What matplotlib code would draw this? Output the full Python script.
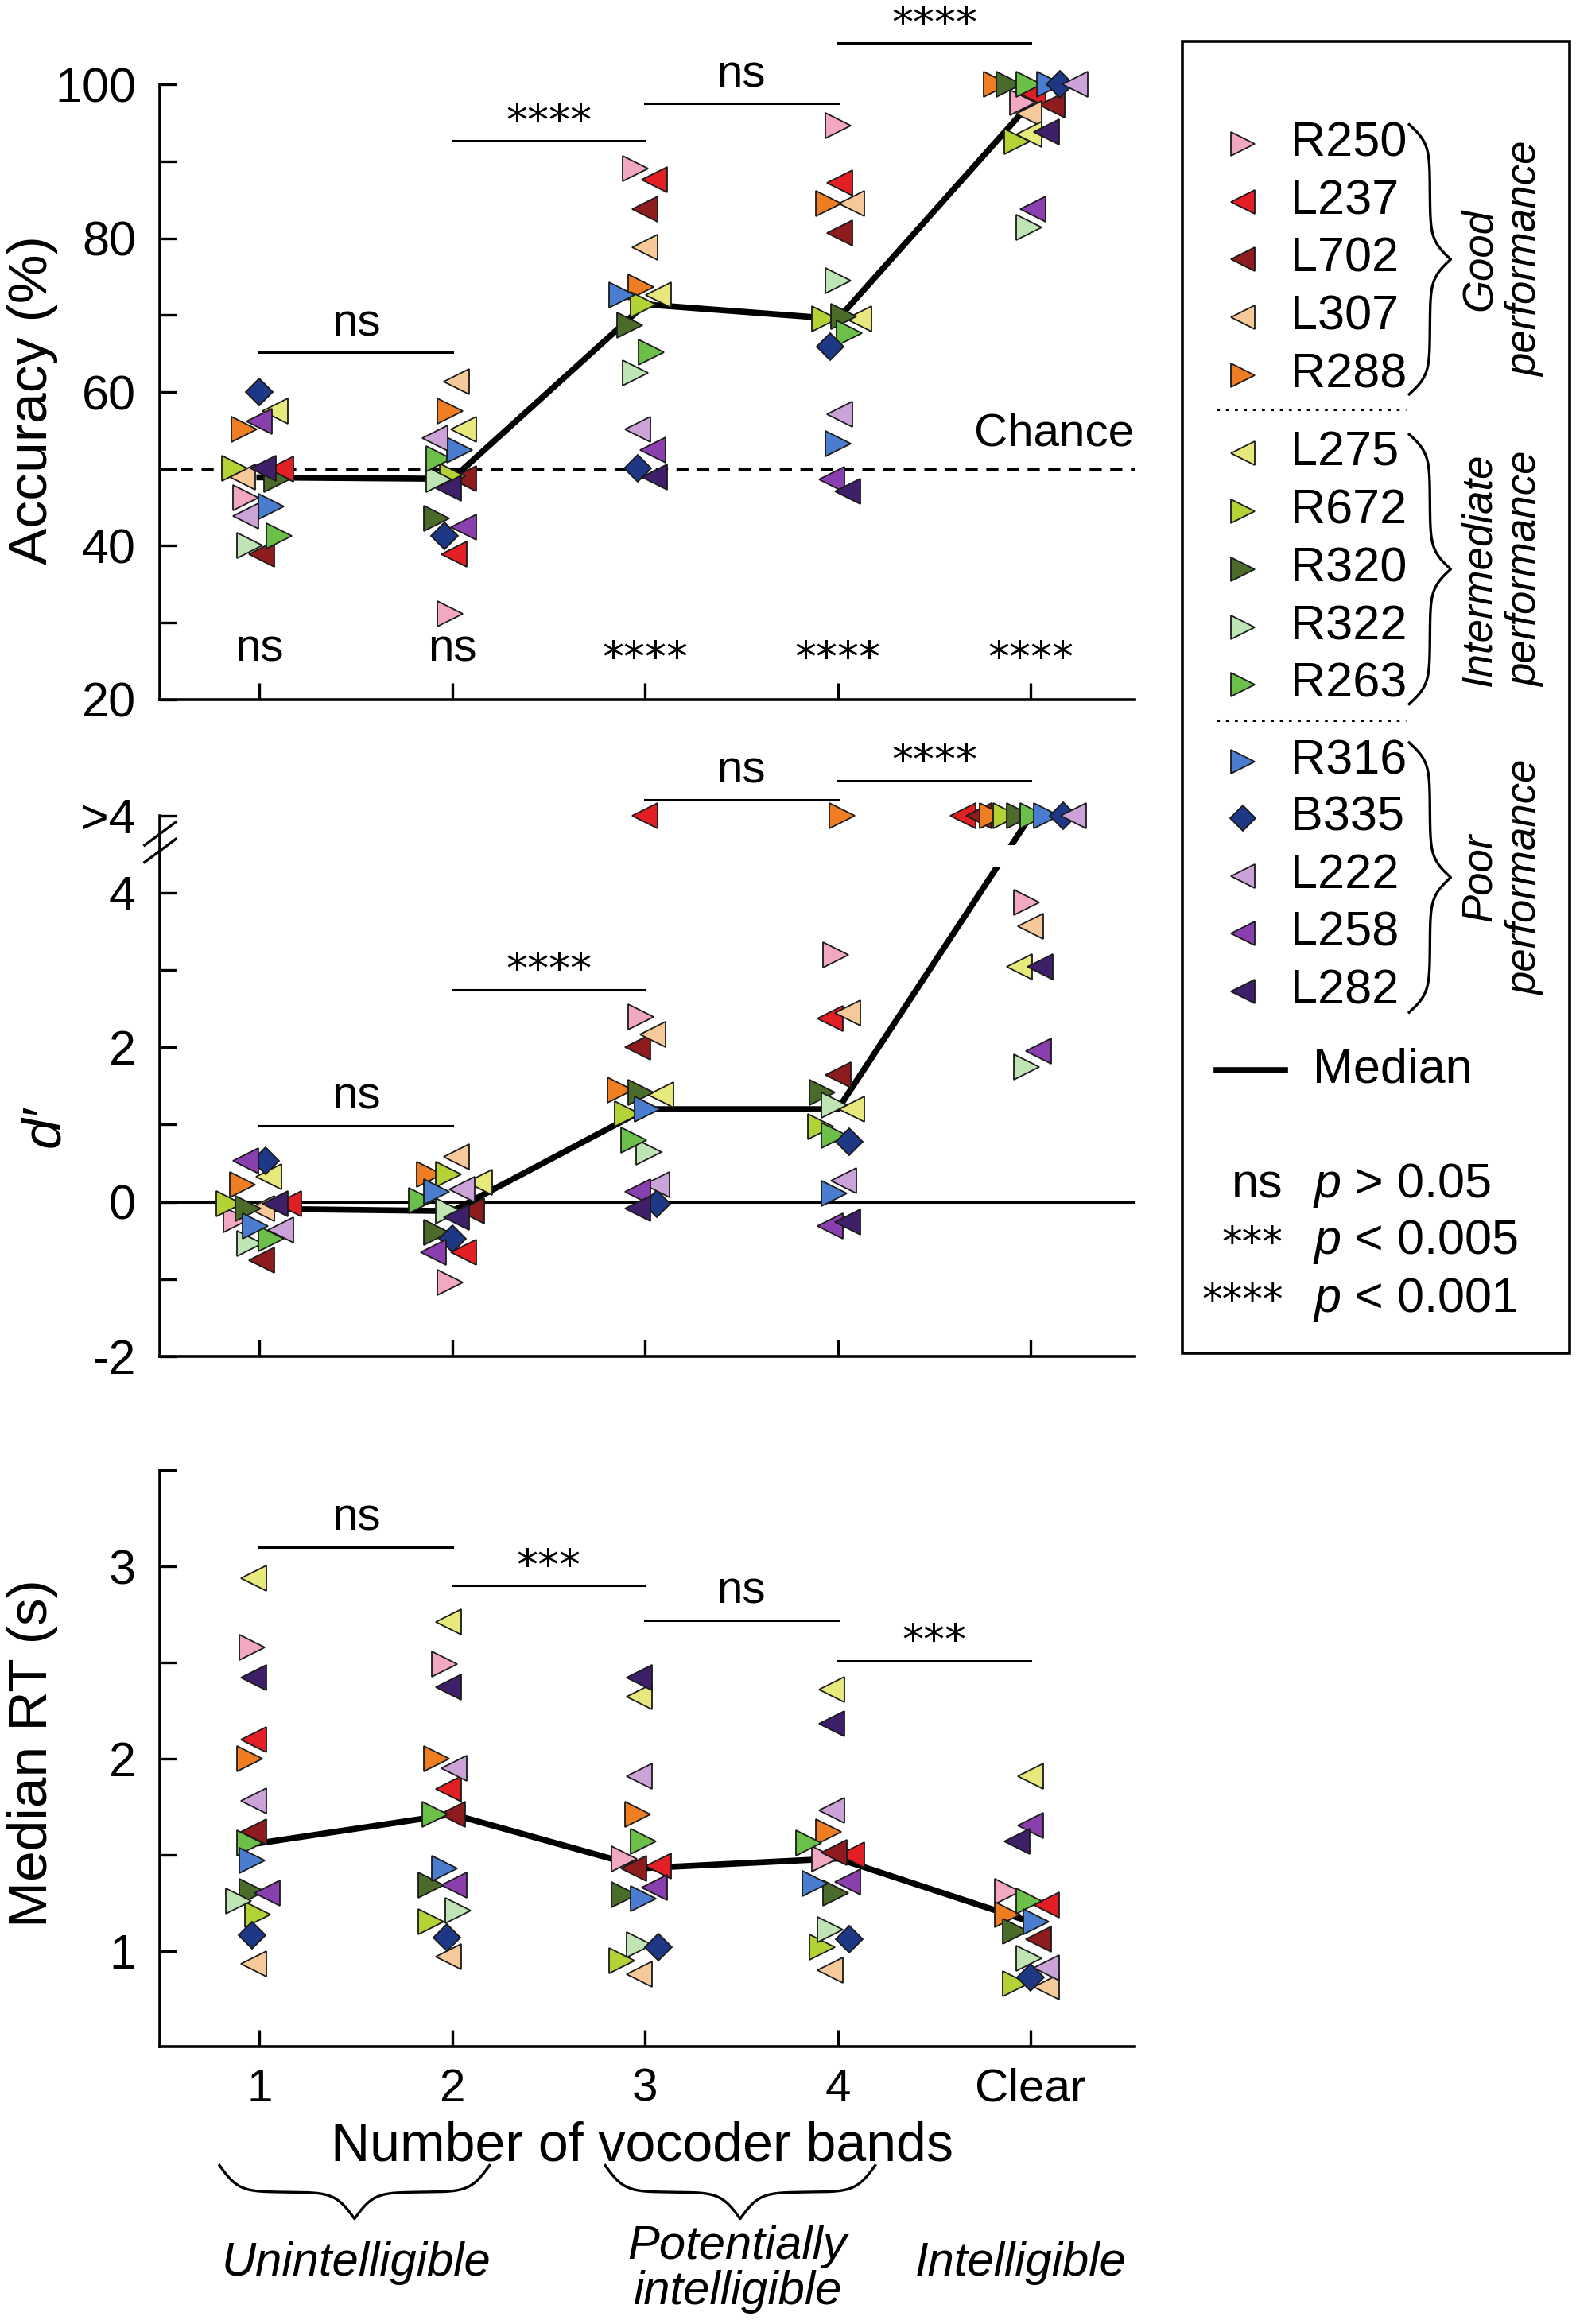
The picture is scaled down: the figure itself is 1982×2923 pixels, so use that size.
import numpy as np
import matplotlib
matplotlib.use('Agg')
import matplotlib.pyplot as plt

plt.rcParams['font.family'] = ['Liberation Sans', 'DejaVu Sans']
plt.rcParams['font.size'] = 44
plt.rcParams['mathtext.fontset'] = 'custom'
plt.rcParams['mathtext.it'] = 'Liberation Sans:italic'
plt.rcParams['mathtext.rm'] = 'Liberation Sans'
NARROW = ['Liberation Sans Narrow', 'Liberation Sans', 'DejaVu Sans']

# subjects, in legend order
subjects = ['R250', 'L237', 'L702', 'L307', 'R288',
            'L275', 'R672', 'R320', 'R322', 'R263',
            'R316', 'B335', 'L222', 'L258', 'L282']
colors = ['#f2a7c3', '#e31f26', '#8e1b1e', '#f6c99b', '#ef7d22',
          '#e7e97c', '#b3d236', '#4b6b2a', '#c0e5b5', '#6cc04a',
          '#4a7cd0', '#1f3885', '#cba3d9', '#8a3fae', '#3e1f6a']
markers = ['>', '<', '<', '<', '>', '<', '>', '>', '>', '>', '>', 'D', '<', '<', '<']
groups = ['Good\nperformance', 'Intermediate\nperformance', 'Poor\nperformance']
conditions = ['1', '2', '3', '4', 'Clear']

# accuracy (%) per condition, subject order as above
acc_b1 = [46.3, 50.0, 38.9, 48.9, 55.1, 57.5, 50.1, 48.6, 40.1, 41.3, 45.1, 60.0, 43.9, 56.2, 50.1]
acc_b2 = [31.2, 38.9, 48.7, 61.3, 57.5, 55.1, 49.0, 43.6, 48.6, 51.3, 52.5, 41.3, 54.0, 42.4, 47.5]
acc_b3 = [89.1, 87.6, 83.8, 78.8, 73.7, 72.6, 71.4, 68.7, 62.5, 65.2, 72.6, 50.1, 55.1, 52.5, 48.9]
acc_b4 = [94.6, 87.2, 80.7, 84.5, 84.5, 69.5, 69.5, 69.8, 74.5, 67.7, 53.3, 65.9, 57.1, 48.6, 47.1]
acc_clear = [97.6, 98.8, 97.3, 96.2, 100, 93.5, 92.6, 100, 81.4, 100, 100, 100, 100, 83.8, 93.8]

# d' per condition (inf = ">4")
inf = np.inf
d_b1 = [-0.23, -0.03, -0.76, -0.09, 0.22, 0.33, -0.03, -0.09, -0.54, -0.48, -0.31, 0.53, -0.37, 0.53, -0.03]
d_b2 = [-1.04, -0.65, -0.12, 0.58, 0.36, 0.25, 0.36, -0.40, -0.12, 0.02, 0.13, -0.48, 0.16, -0.65, -0.20]
d_b3 = [2.40, inf, 2.00, 2.17, 1.45, 1.39, 1.14, 1.42, 0.64, 0.80, 1.20, -0.03, 0.22, 0.13, -0.09]
d_b4 = [3.20, 2.37, 1.64, 2.45, inf, 1.20, 0.97, 1.42, 1.25, 0.86, 0.11, 0.78, 0.27, -0.31, -0.26]
d_clear = [3.88, inf, inf, 3.57, inf, 3.04, inf, inf, 1.75, inf, inf, inf, inf, 1.95, 3.04]

# median reaction time (s)
rt_b1 = [2.58, 2.10, 1.62, 0.93, 2.00, 2.94, 1.19, 1.31, 1.26, 1.56, 1.47, 1.08, 1.78, 1.30, 2.42]
rt_b2 = [2.49, 1.84, 1.71, 0.97, 2.00, 2.71, 1.15, 1.34, 1.21, 1.71, 1.43, 1.07, 1.95, 1.34, 2.37]
rt_b3 = [1.48, 1.44, 1.43, 0.88, 1.71, 2.32, 0.95, 1.29, 1.03, 1.57, 1.27, 1.02, 1.91, 1.33, 2.42]
rt_b4 = [1.48, 1.50, 1.51, 0.90, 1.62, 2.36, 1.02, 1.30, 1.11, 1.56, 1.35, 1.06, 1.73, 1.36, 2.18]
rt_clear = [1.31, 1.24, 1.06, 0.81, 1.19, 1.91, 0.83, 1.10, 0.96, 1.26, 1.15, 0.86, 0.91, 1.65, 1.57]

# horizontal jitter of each point (x units)
jit_acc = [[-0.07, 0.11, 0.01, -0.09, -0.08, 0.08, -0.13, 0.09, -0.05, 0.10, 0.06, 0.0, -0.07, 0.0, 0.02],
           [-0.01, 0.01, 0.06, 0.02, -0.01, 0.06, 0.0, -0.08, -0.07, -0.07, 0.04, -0.04, -0.09, 0.06, -0.02],
           [-0.05, 0.05, 0.0, 0.0, -0.02, 0.07, -0.01, -0.08, -0.05, 0.03, -0.12, -0.04, -0.04, 0.04, 0.05],
           [0.0, 0.01, 0.01, 0.07, -0.05, 0.11, -0.07, 0.03, 0.0, 0.06, 0.0, -0.04, 0.01, -0.03, 0.05],
           [-0.04, 0.01, 0.11, -0.01, -0.18, -0.01, -0.07, -0.11, -0.01, -0.01, 0.10, 0.15, 0.23, 0.01, 0.08]]
jit_d = [[-0.12, 0.15, 0.01, 0.01, -0.09, 0.05, -0.16, -0.06, -0.05, 0.06, -0.02, 0.03, 0.11, -0.07, 0.08],
         [-0.01, 0.06, 0.10, 0.02, -0.12, 0.14, -0.02, -0.08, -0.02, -0.16, -0.08, 0.0, 0.05, -0.10, 0.02],
         [-0.02, 0.0, -0.04, 0.04, -0.13, 0.08, -0.09, -0.02, 0.02, -0.06, 0.01, 0.06, 0.06, -0.04, -0.04],
         [-0.01, -0.04, 0.0, 0.05, 0.02, 0.07, -0.09, -0.08, -0.02, -0.02, -0.02, 0.06, 0.03, -0.04, 0.05],
         [-0.02, -0.35, -0.27, 0.0, -0.20, -0.06, -0.13, -0.06, -0.02, 0.01, 0.08, 0.17, 0.22, 0.04, 0.05]]
jit_rt = [[-0.04, -0.03, -0.03, -0.03, -0.05, -0.03, -0.01, -0.04, -0.11, -0.05, -0.04, -0.04, -0.03, 0.04, -0.03],
          [-0.04, -0.02, 0.0, -0.02, -0.08, -0.02, -0.11, -0.11, 0.03, -0.09, -0.04, -0.03, 0.01, 0.01, -0.02],
          [-0.11, 0.07, -0.06, -0.03, -0.04, -0.03, -0.12, -0.11, -0.03, -0.01, -0.01, 0.07, -0.03, 0.05, -0.03],
          [-0.07, 0.07, -0.02, -0.04, -0.05, -0.03, -0.08, -0.01, -0.04, -0.15, -0.12, 0.06, -0.03, 0.05, -0.03],
          [-0.12, 0.08, 0.04, 0.08, -0.12, 0.0, -0.08, -0.08, -0.01, -0.01, 0.03, 0.0, 0.08, 0.0, -0.07]]

# significance brackets: (from, to, level, label)
sig_acc = [(1, 2, 65.2, 'ns'), (2, 3, 92.7, '****'), (3, 4, 97.5, 'ns'), (4, 5, 105.4, '****')]
sig_acc_chance = ['ns', 'ns', '****', '****', '****']
sig_d = [(1, 2, 0.98, 'ns'), (2, 3, 2.75, '****'), (3, 4, 5.21, 'ns'), (4, 5, 5.46, '****')]
sig_rt = [(1, 2, 3.10, 'ns'), (2, 3, 2.90, '***'), (3, 4, 2.72, 'ns'), (4, 5, 2.51, '***')]

W, H = 1063, 1568  # layout grid (reference units)
fig = plt.figure(figsize=(19.83, 29.23), dpi=100)


def box(l, t, r, b):
    return [l / W, 1 - b / H, (r - l) / W, (b - t) / H]


ax1 = fig.add_axes(box(108, 2, 765, 472))
ax2 = fig.add_axes(box(108, 488, 765, 915))
ax3 = fig.add_axes(box(108, 992, 765, 1381))

xpos = np.arange(1, 6)
STAR_FS = 39
TXT_FS = 42


def star_text(ax, x, y, s, ha='center', fs=STAR_FS):
    ax.annotate(s, (x, y), xytext=(0, -0.52 * fs), textcoords='offset points',
                ha=ha, va='baseline', fontsize=fs, family='DejaVu Sans',
                annotation_clip=False)


def sig_label(ax, x, y, s):
    if s.startswith('*'):
        star_text(ax, x, y, s)
    else:
        ax.annotate(s, (x, y), xytext=(0, -0.26 * TXT_FS), textcoords='offset points',
                    ha='center', va='baseline', fontsize=TXT_FS, annotation_clip=False)


def brackets(ax, sigs, gap):
    for a, b, lev, lab in sigs:
        ax.plot([a, b], [lev, lev], color='k', lw=2.2, clip_on=False, zorder=1)
        sig_label(ax, (a + b) / 2, lev + gap, lab)


def scatter_subjects(ax, vals, jit):
    for i in range(len(subjects)):
        ms = 17 if markers[i] == 'D' else 23
        ax.plot(xpos + jit[:, i], vals[:, i], ls='none', marker=markers[i], ms=ms,
                mfc=colors[i], mec='#1a1a1a', mew=1.3, zorder=4, clip_on=False)


def style(ax, ylim, bounds):
    ax.set_xlim(0.485, 5.54)
    ax.set_ylim(*ylim)
    for s in ['top', 'right']:
        ax.spines[s].set_visible(False)
    for s in ['left', 'bottom']:
        ax.spines[s].set_linewidth(2.6)
    ax.spines['left'].set_bounds(*bounds)
    ax.set_xticks(xpos)
    ax.tick_params(which='both', direction='in', length=15, width=2.4, pad=22)
    ax.patch.set_visible(False)


# ---- accuracy
acc = np.array([acc_b1, acc_b2, acc_b3, acc_b4, acc_clear])
style(ax1, (20, 110.6), (20, 100))
ax1.set_yticks([20, 40, 60, 80, 100])
ax1.set_yticks([30, 50, 70, 90], minor=True)
ax1.tick_params(labelbottom=False)
ax1.axhline(50, color='k', lw=2.2, ls=(0, (5, 3.5)), zorder=1)
ax1.text(5.12, 54.6, 'Chance', ha='center', va='center', fontsize=TXT_FS)
ax1.plot(xpos, np.median(acc, axis=1), color='k', lw=5.5, zorder=3)
scatter_subjects(ax1, acc, np.array(jit_acc))
brackets(ax1, sig_acc, 3.7)
for x, lab in zip(xpos, sig_acc_chance):
    sig_label(ax1, x, 26.6, lab)

# ---- d'
d = np.array([d_b1, d_b2, d_b3, d_b4, d_clear])
d_plot = np.where(np.isinf(d), 5.0, d)
style(ax2, (-2, 6.2), (-2, 5))
ax2.set_yticks([-2, 0, 2, 4, 5])
ax2.set_yticklabels(['-2', '0', '2', '4', '>4'])
ax2.set_yticks([-1, 1, 3], minor=True)
ax2.tick_params(labelbottom=False)
ax2.axhline(0, color='k', lw=2.2, zorder=1)
ax2.plot(xpos, np.clip(np.median(d, axis=1), None, 5.0), color='k', lw=5.5, zorder=3)
ax2.fill_between([4.5, 5.2], 4.33, 4.62, color='white', zorder=3.5, lw=0)
scatter_subjects(ax2, d_plot, np.array(jit_d))
brackets(ax2, sig_d, 0.38)
yt = ax2.get_yaxis_transform()
for y0 in (4.40, 4.62):
    ax2.plot([-0.016, 0.016], [y0, y0 + 0.3], transform=yt, color='k', lw=2.4, clip_on=False, zorder=5)

# ---- RT
rt = np.array([rt_b1, rt_b2, rt_b3, rt_b4, rt_clear])
style(ax3, (0.5, 3.5), (0.5, 3.5))
ax3.set_yticks([1, 2, 3])
ax3.set_yticks([1.5, 2.5, 3.5], minor=True)
ax3.set_xticklabels(conditions)
for lbl in ax3.get_xticklabels():
    lbl.set_family(NARROW)
    lbl.set_fontsize(42)
ax3.tick_params(axis='x', pad=19)
ax3.plot(xpos, np.median(rt, axis=1), color='k', lw=5.5, zorder=3)
scatter_subjects(ax3, rt, np.array(jit_rt))
brackets(ax3, sig_rt, 0.15)

for ax in (ax1, ax2, ax3):
    for lbl in ax.get_yticklabels():
        lbl.set_fontsize(44)

# ---- overlay for labels, braces and legend
ov = fig.add_axes([0, 0, 1, 1])
ov.set_xlim(0, W)
ov.set_ylim(H, 0)
ov.axis('off')

ov.text(22, 270, 'Accuracy (%)', rotation=90, ha='center', va='center', fontsize=50)
ov.text(30, 760, 'd\u2032', rotation=90, ha='center', va='center', fontsize=50, style='italic')
ov.text(22, 1183, 'Median RT (s)', rotation=90, ha='center', va='center', fontsize=50)
ov.text(433, 1448, 'Number of vocoder bands', ha='center', va='center', fontsize=49, family=NARROW)


def brace_curve(n=301):
    half = np.linspace(0, 1, n // 2 + 1)
    beta = 14.0
    y = 1 / (1 + np.exp(-beta * (half - half[0]))) + 1 / (1 + np.exp(-beta * (half - half[-1])))
    y = np.concatenate([y, y[-2::-1]])
    y = (y - y.min()) / (y.max() - y.min())
    t = np.linspace(0, 1, len(y))
    return t, y


def hbrace(x0, x1, ytop, depth):
    t, y = brace_curve()
    ov.plot(x0 + t * (x1 - x0), ytop + depth * y, color='k', lw=2.4)


def vbrace(y0, y1, xleft, depth):
    t, y = brace_curve()
    ov.plot(xleft + depth * y, y0 + t * (y1 - y0), color='k', lw=2.4)


hbrace(148, 330, 1461, 36)
hbrace(408, 590, 1461, 36)
ov.text(240, 1527, 'Unintelligible', ha='center', va='center', fontsize=43, style='italic', family=NARROW)
ov.text(497, 1531, 'Potentially\nintelligible', ha='center', va='center', fontsize=43,
        style='italic', family=NARROW, linespacing=1.05)
ov.text(688, 1527, 'Intelligible', ha='center', va='center', fontsize=43, style='italic', family=NARROW)

# legend box
ov.add_patch(plt.Rectangle((797, 28), 261, 885, fill=False, lw=2.6, ec='k'))
rows = [97, 136, 175, 214, 253, 306, 345, 384, 423, 462, 514, 552, 591, 630, 669]
for i, yy in enumerate(rows):
    ms = 16 if markers[i] == 'D' else 21
    ov.plot(838, yy, marker=markers[i], ms=ms, mfc=colors[i], mec='#1a1a1a', mew=1.3)
    ov.text(870, yy, subjects[i], ha='left', va='center', fontsize=44)
for yy in (276, 486):
    ov.plot([820, 948], [yy, yy], color='k', lw=2.2, ls=(0, (1.2, 2.5)))
for g, (ya, yb, yc) in enumerate([(84, 266, 175), (293, 475, 384), (501, 683, 592)]):
    vbrace(ya, yb, 950, 28)
    ov.text(1013, yc, groups[g], rotation=90, ha='center', va='center', fontsize=38,
            style='italic', family=NARROW, linespacing=1.2, multialignment='center')
ov.plot([820, 866], [722, 722], color='k', lw=5.5)
ov.text(885, 722, 'Median', ha='left', va='center', fontsize=44)
for yy, lab, ptxt in [(800, 'ns', r'$p$ > 0.05'), (838, '***', r'$p$ < 0.005'), (877, '****', r'$p$ < 0.001')]:
    if lab.startswith('*'):
        star_text(ov, 865, yy - 5, lab, ha='right', fs=37)
    else:
        ov.text(865, yy, lab, ha='right', va='center', fontsize=44)
    ov.text(885, yy, ptxt, ha='left', va='center', fontsize=44)

fig.savefig('out.png', dpi=100)
